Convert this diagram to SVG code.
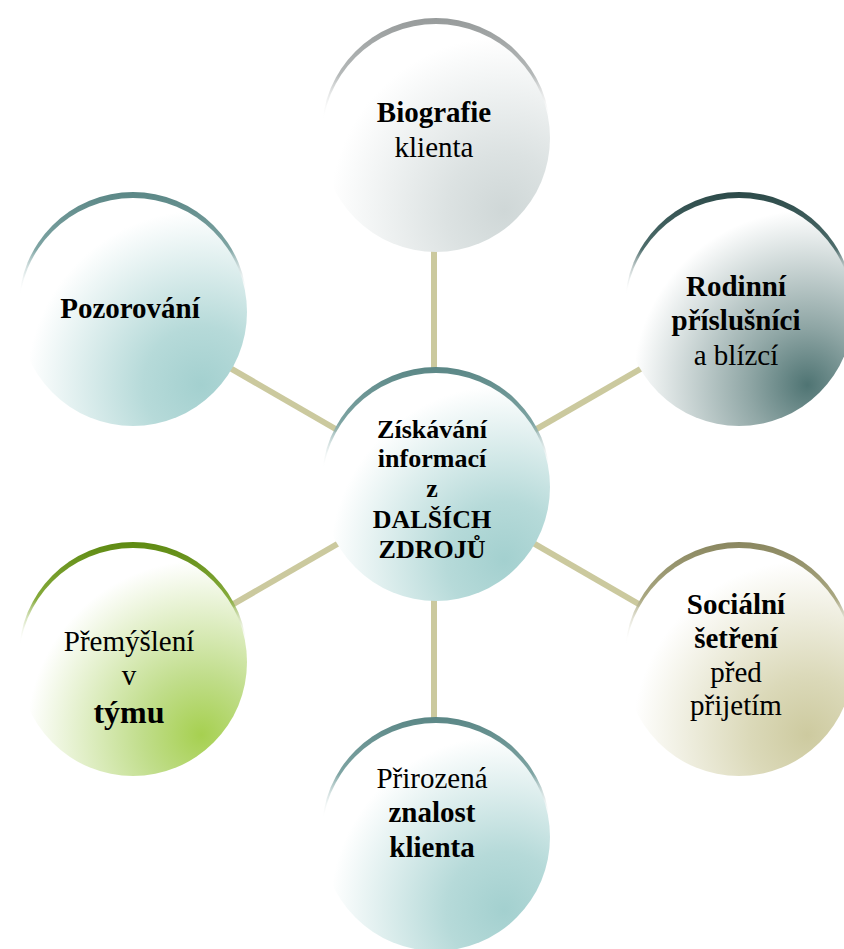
<svg xmlns="http://www.w3.org/2000/svg" width="844" height="949" viewBox="0 0 844 949">
<style>
.t{font-family:"Liberation Serif","Times New Roman",serif;font-size:29px;fill:#000;text-anchor:middle}
.c{font-size:26px;font-weight:bold}
.b{font-weight:bold}
.conn{stroke:#cbc99e;stroke-width:6;fill:none}
</style>
<defs>
<radialGradient id="gTeal" cx="0.8" cy="0.82" r="0.85"><stop offset="0" stop-color="#a3d0cf"/><stop offset="0.3" stop-color="#b6dad9"/><stop offset="0.9" stop-color="#ffffff"/></radialGradient>
<radialGradient id="gGrey" cx="0.8" cy="0.82" r="0.85"><stop offset="0" stop-color="#cfd7d7"/><stop offset="0.3" stop-color="#dce2e2"/><stop offset="0.9" stop-color="#ffffff"/></radialGradient>
<radialGradient id="gDark" cx="0.8" cy="0.82" r="0.85"><stop offset="0" stop-color="#4f7473"/><stop offset="0.3" stop-color="#8fa6a5"/><stop offset="0.9" stop-color="#ffffff"/></radialGradient>
<radialGradient id="gKhaki" cx="0.8" cy="0.82" r="0.85"><stop offset="0" stop-color="#cdca9f"/><stop offset="0.3" stop-color="#dbd9b9"/><stop offset="0.9" stop-color="#ffffff"/></radialGradient>
<radialGradient id="gGreen" cx="0.8" cy="0.82" r="0.85"><stop offset="0" stop-color="#a6d050"/><stop offset="0.3" stop-color="#c0dd8a"/><stop offset="0.9" stop-color="#ffffff"/></radialGradient>
<linearGradient id="rTeal" x1="0" y1="0" x2="0" y2="1"><stop offset="0" stop-color="#5b8786"/><stop offset="0.25" stop-color="#7fa5a4"/><stop offset="0.45" stop-color="#ffffff" stop-opacity="0"/></linearGradient>
<linearGradient id="rGrey" x1="0" y1="0" x2="0" y2="1"><stop offset="0" stop-color="#979b9b"/><stop offset="0.25" stop-color="#b5b9b9"/><stop offset="0.45" stop-color="#ffffff" stop-opacity="0"/></linearGradient>
<linearGradient id="rDark" x1="0" y1="0" x2="0" y2="1"><stop offset="0" stop-color="#2c4a49"/><stop offset="0.25" stop-color="#4e6d6c"/><stop offset="0.45" stop-color="#ffffff" stop-opacity="0"/></linearGradient>
<linearGradient id="rKhaki" x1="0" y1="0" x2="0" y2="1"><stop offset="0" stop-color="#8a8760"/><stop offset="0.25" stop-color="#aaa882"/><stop offset="0.45" stop-color="#ffffff" stop-opacity="0"/></linearGradient>
<linearGradient id="rGreen" x1="0" y1="0" x2="0" y2="1"><stop offset="0" stop-color="#5e8a12"/><stop offset="0.25" stop-color="#86ab3c"/><stop offset="0.45" stop-color="#ffffff" stop-opacity="0"/></linearGradient>
</defs>
<rect width="844" height="949" fill="#ffffff"/>
<g id="connectors">
<line class="conn" x1="434" y1="487" x2="434" y2="137"/>
<line class="conn" x1="436" y1="487" x2="739" y2="312"/>
<line class="conn" x1="436" y1="487" x2="739" y2="662"/>
<line class="conn" x1="434" y1="487" x2="434" y2="837"/>
<line class="conn" x1="436" y1="487" x2="133" y2="662"/>
<line class="conn" x1="436" y1="487" x2="133" y2="312"/>
</g>
<g id="node-biografie">
<circle cx="436" cy="132" r="114" fill="url(#rGrey)"/>
<circle cx="436" cy="138" r="114" fill="url(#gGrey)"/>
<text class="t" x="434" y="122"><tspan class="b">Biografie</tspan></text>
<text class="t" x="434" y="157">klienta</text>
</g>
<g id="node-rodinni">
<circle cx="739" cy="306" r="114" fill="url(#rDark)"/>
<circle cx="739" cy="312" r="114" fill="url(#gDark)"/>
<text class="t b" x="736" y="296">Rodinní</text>
<text class="t b" x="736" y="330">příslušníci</text>
<text class="t" x="736" y="365">a blízcí</text>
</g>
<g id="node-socialni">
<circle cx="739" cy="656" r="114" fill="url(#rKhaki)"/>
<circle cx="739" cy="662" r="114" fill="url(#gKhaki)"/>
<text class="t b" x="736" y="614">Sociální</text>
<text class="t b" x="736" y="648">šetření</text>
<text class="t" x="736" y="682">před</text>
<text class="t" x="736" y="715">přijetím</text>
</g>
<g id="node-prirozena">
<circle cx="436" cy="831" r="114" fill="url(#rTeal)"/>
<circle cx="436" cy="837" r="114" fill="url(#gTeal)"/>
<text class="t" x="432" y="788">Přirozená</text>
<text class="t b" x="432" y="822">znalost</text>
<text class="t b" x="432" y="857">klienta</text>
</g>
<g id="node-premysleni">
<circle cx="133" cy="656" r="114" fill="url(#rGreen)"/>
<circle cx="133" cy="662" r="114" fill="url(#gGreen)"/>
<text class="t" x="129" y="651">Přemýšlení</text>
<text class="t" x="129" y="685">v</text>
<text class="t b" x="129" y="723" style="font-size:32px">týmu</text>
</g>
<g id="node-pozorovani">
<circle cx="133" cy="306" r="114" fill="url(#rTeal)"/>
<circle cx="133" cy="312" r="114" fill="url(#gTeal)"/>
<text class="t b" x="130" y="318">Pozorování</text>
</g>
<g id="node-center">
<circle cx="436" cy="481" r="114" fill="url(#rTeal)"/>
<circle cx="436" cy="487" r="114" fill="url(#gTeal)"/>
<text class="t c" x="432" y="438">Získávání</text>
<text class="t c" x="432" y="467">informací</text>
<text class="t c" x="432" y="497">z</text>
<text class="t c" x="432" y="528">DALŠÍCH</text>
<text class="t c" x="432" y="558">ZDROJŮ</text>
</g>
</svg>
